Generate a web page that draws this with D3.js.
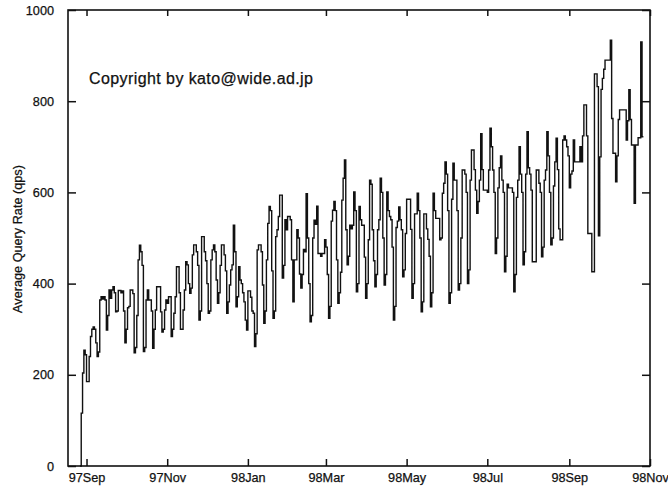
<!DOCTYPE html>
<html>
<head>
<meta charset="utf-8">
<script src="https://cdnjs.cloudflare.com/ajax/libs/d3/7.8.5/d3.min.js"></script>
<style>
  body { margin: 0; background: #fff; }
  svg text { font-family: "Liberation Sans", Arial, Helvetica, sans-serif; fill: #111; stroke: #111; stroke-width: 0.25px; }
</style>
</head>
<body>
<div id="chart"></div>
<script>
// first day of the series, one value per day after it
var startDay = "1997-08-27";

// average query rate (qps), one row per week
var dailyQps = [0,
  116, 204, 254, 244, 185, 185, 240,
  284, 300, 305, 300, 270, 240, 250,
  364, 371, 366, 371, 364, 298, 330,
  386, 368, 386, 393, 380, 338, 340,
  385, 385, 380, 384, 340, 270, 300,
  347, 350, 386, 386, 378, 248, 260,
  330, 452, 484, 470, 440, 251, 260,
  364, 386, 364, 364, 340, 258, 300,
  342, 393, 393, 393, 338, 294, 300,
  342, 364, 357, 371, 371, 284, 300,
  335, 371, 437, 437, 380, 300, 300,
  342, 386, 448, 441, 400, 379, 390,
  463, 485, 485, 470, 440, 320, 340,
  503, 503, 470, 450, 400, 335, 340,
  452, 474, 485, 470, 408, 357, 380,
  440, 485, 485, 463, 428, 335, 360,
  397, 430, 441, 528, 470, 349, 371,
  437, 408, 400, 380, 360, 320, 298,
  384, 384, 370, 340, 335, 262, 290,
  474, 485, 485, 470, 397, 313, 340,
  452, 532, 569, 560, 428, 324, 340,
  503, 518, 547, 594, 594, 412, 440,
  540, 518, 547, 547, 540, 452, 360,
  452, 452, 518, 500, 421, 390, 420,
  475, 470, 597, 500, 400, 316, 330,
  500, 539, 530, 570, 466, 466, 460,
  466, 466, 496, 480, 420, 324, 350,
  537, 561, 580, 560, 452, 357, 380,
  425, 583, 631, 671, 518, 441, 460,
  528, 520, 528, 601, 560, 382, 400,
  569, 540, 528, 528, 458, 368, 400,
  496, 627, 618, 518, 450, 393, 420,
  518, 540, 631, 600, 500, 397, 420,
  601, 560, 547, 540, 480, 320, 350,
  523, 537, 568, 540, 518, 415, 430,
  510, 585, 585, 585, 519, 368, 400,
  553, 553, 598, 560, 500, 338, 360,
  553, 553, 520, 497, 460, 349, 380,
  598, 560, 543, 543, 543, 496, 500,
  598, 620, 667, 640, 560, 357, 380,
  585, 664, 627, 627, 560, 386, 400,
  500, 649, 649, 640, 600, 400, 430,
  627, 693, 693, 650, 605, 554, 580,
  627, 729, 650, 605, 605, 605, 600,
  649, 741, 700, 649, 600, 466, 500,
  610, 654, 680, 627, 600, 426, 460,
  618, 610, 610, 610, 600, 382, 420,
  589, 627, 700, 640, 600, 441, 470,
  640, 733, 654, 640, 605, 448, 448,
  448, 649, 649, 620, 600, 459, 480,
  627, 649, 733, 680, 600, 485, 500,
  614, 667, 719, 650, 520, 496, 496,
  715, 724, 715, 700, 680, 610, 640,
  647, 715, 667, 667, 667, 667, 700,
  667, 724, 792, 792, 724, 510, 510,
  510, 426, 426, 860, 860, 832, 505,
  678, 826, 850, 870, 890, 890, 890,
  890, 934, 762, 686, 686, 623, 680,
  760, 781, 781, 781, 781, 781, 715,
  757, 825, 760, 704, 704, 576, 704,
  704, 720, 720, 930, 722, 722
];

// axis ticks
var xTickDays = ["1997-09-01", "1997-11-01", "1998-01-01", "1998-03-01",
                 "1998-05-01", "1998-07-01", "1998-09-01", "1998-11-01"];
var xTickLabels = ["97Sep", "97Nov", "98Jan", "98Mar", "98May", "98Jul", "98Sep", "98Nov"];
var yTicks = [0, 200, 400, 600, 800, 1000];

var yLabel = "Average Query Rate (qps)";
var copyright = "Copyright by kato@wide.ad.jp";

var width = 668, height = 488;
var margin = {top: 10, right: 18, bottom: 22, left: 68};

var parseDay = d3.utcParse("%Y-%m-%d");
var day0 = parseDay(startDay);

var data = dailyQps.map(function (v, i) {
    return {date: d3.utcDay.offset(day0, i), value: v};
});

var svg = d3.select("#chart").append("svg")
    .attr("width", width)
    .attr("height", height)
    .style("display", "block");

// x scale
var xScale = d3.scaleUtc()
    .domain([parseDay("1997-08-18"), parseDay("1998-11-01")])
    .range([margin.left, width - margin.right]);

// y scale
var yScale = d3.scaleLinear()
    .domain([0, 1000])
    .range([height - margin.bottom, margin.top]);

var x0 = xScale.range()[0], x1 = xScale.range()[1];
var y0 = yScale.range()[0], y1 = yScale.range()[1];

// the step line
var line = d3.line()
    .x(function (d) { return xScale(d.date); })
    .y(function (d) { return yScale(d.value); })
    .curve(d3.curveStepAfter);

svg.append("path")
    .datum(data)
    .attr("d", line)
    .attr("fill", "none")
    .attr("stroke", "#111")
    .attr("stroke-width", 1.4);

var tickDates = xTickDays.map(parseDay);

// bottom axis, ticks point inward
var xAxis = svg.append("g")
    .attr("transform", "translate(0," + y0 + ")")
    .call(d3.axisBottom(xScale)
        .tickValues(tickDates)
        .tickSize(-7)
        .tickFormat(function (d, i) { return xTickLabels[i]; }));

// top axis, mirrored ticks
var xAxisTop = svg.append("g")
    .attr("transform", "translate(0," + y1 + ")")
    .call(d3.axisTop(xScale)
        .tickValues(tickDates)
        .tickSize(-6)
        .tickFormat(""));

// left axis
var yAxis = svg.append("g")
    .attr("transform", "translate(" + x0 + ",0)")
    .call(d3.axisLeft(yScale)
        .tickValues(yTicks)
        .tickSize(-8)
        .tickPadding(14)
        .tickFormat(d3.format("d")));

// right axis, mirrored ticks
var yAxisRight = svg.append("g")
    .attr("transform", "translate(" + x1 + ",0)")
    .call(d3.axisRight(yScale)
        .tickValues(yTicks)
        .tickSize(-8)
        .tickFormat(""));

svg.selectAll(".domain").remove();
svg.selectAll(".tick line")
    .attr("stroke", "#111")
    .attr("stroke-width", 1.5);
svg.selectAll(".tick text")
    .style("font-size", "12.7px")
    .attr("fill", "#111");
xAxis.selectAll(".tick text")
    .attr("y", 16)
    .attr("dy", 0);

// frame
svg.append("rect")
    .attr("x", x0)
    .attr("y", y1)
    .attr("width", x1 - x0)
    .attr("height", y0 - y1)
    .attr("fill", "none")
    .attr("stroke", "#111")
    .attr("stroke-width", 1.6);

// y axis title
svg.append("text")
    .attr("transform", "translate(22," + ((y0 + y1) / 2 + 1) + ")rotate(-90)")
    .attr("text-anchor", "middle")
    .style("font-size", "12.7px")
    .text(yLabel);

// copyright note
svg.append("text")
    .attr("x", 89)
    .attr("y", 84)
    .attr("textLength", 224)
    .attr("lengthAdjust", "spacing")
    .style("font-size", "16px")
    .text(copyright);
</script>
</body>
</html>
